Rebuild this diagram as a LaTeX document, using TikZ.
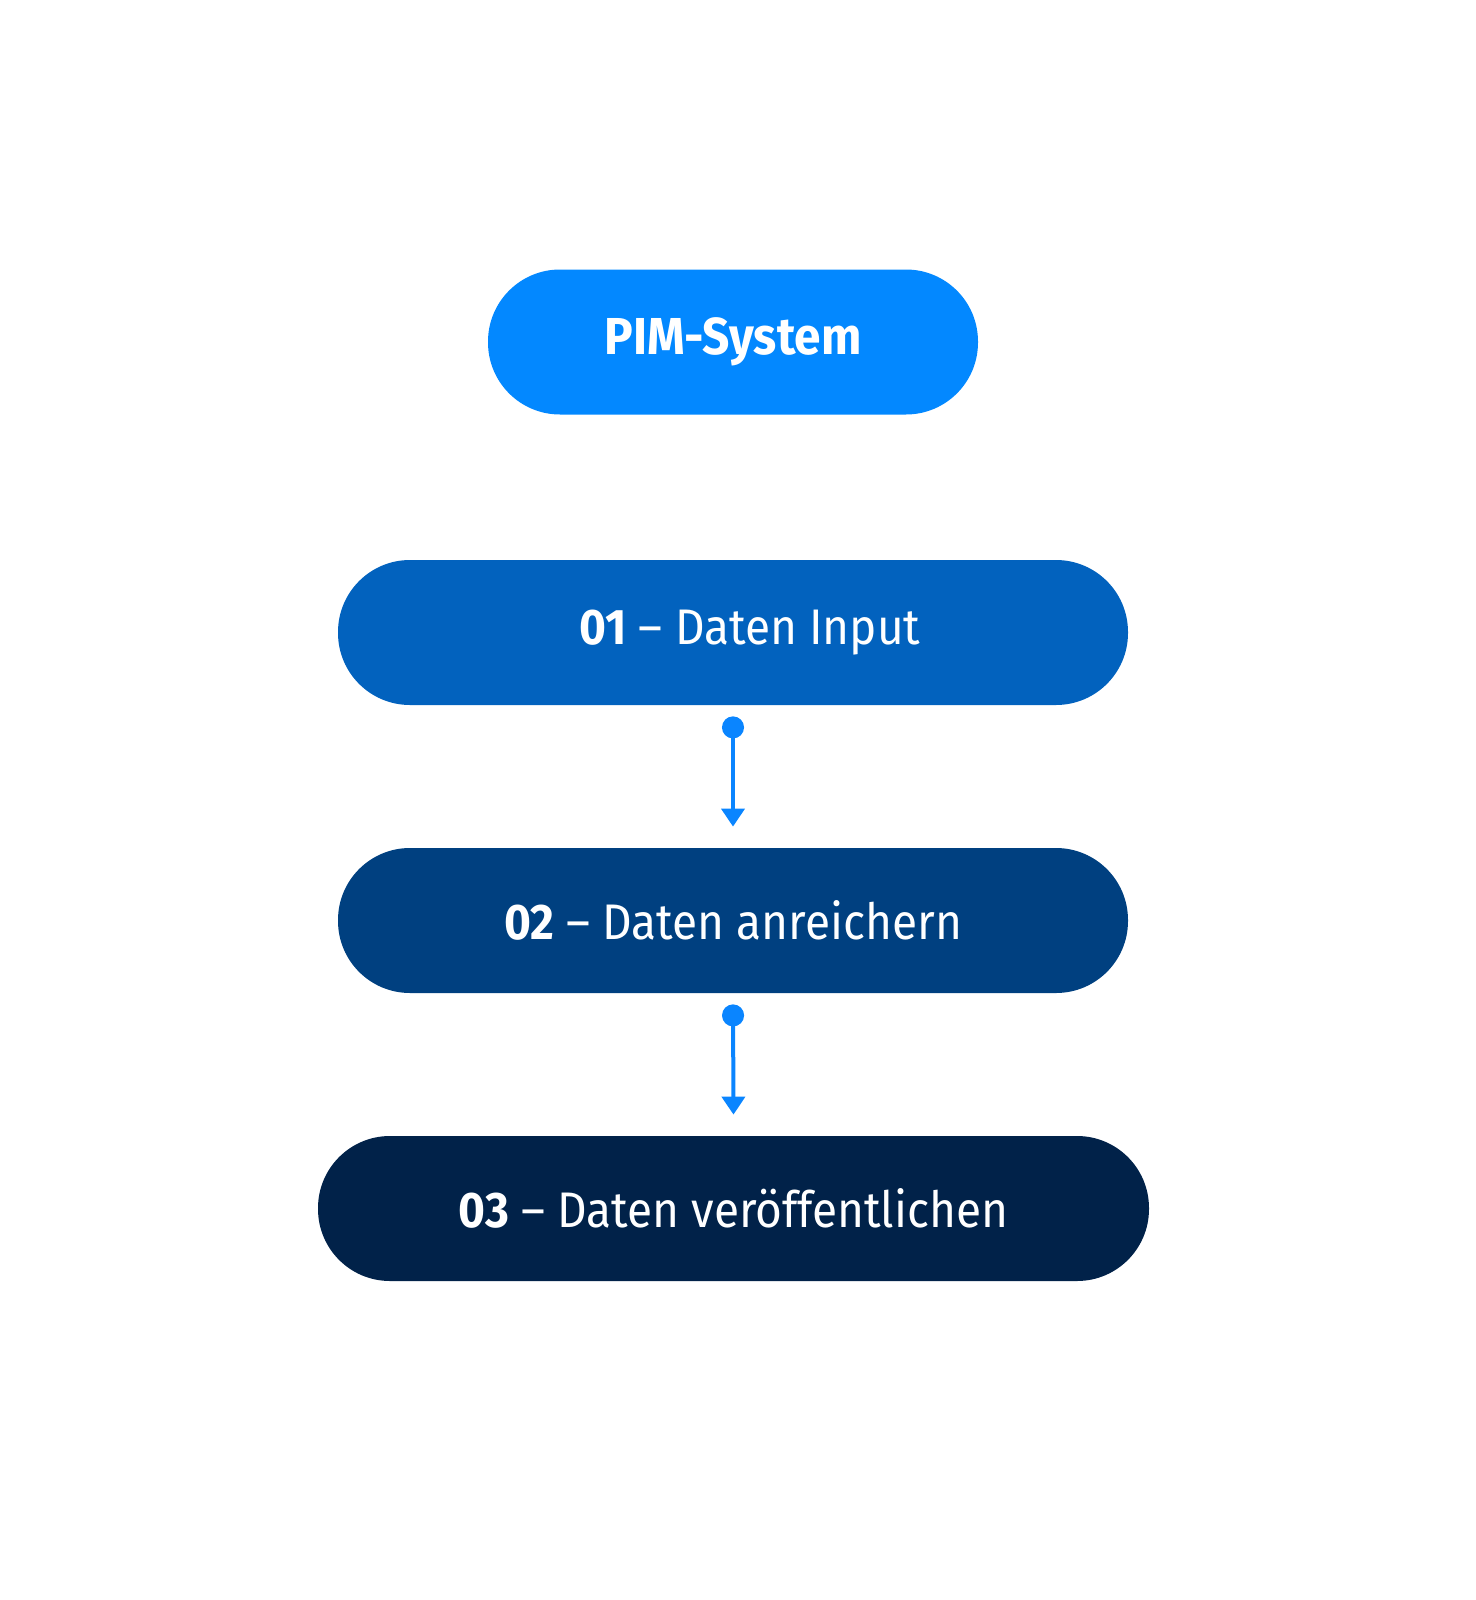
\documentclass[tikz,border=0pt]{standalone}
\usepackage{fontspec}
\setmainfont[FakeStretch=0.92]{Fira Sans}
\usetikzlibrary{arrows.meta}
\definecolor{pimblue}{HTML}{0388FF}
\definecolor{stepone}{HTML}{0262BE}
\definecolor{steptwo}{HTML}{004080}
\definecolor{stepthree}{HTML}{012249}
\definecolor{linkblue}{HTML}{0A85FF}

\begin{document}
\begin{tikzpicture}[x=0.5pt,y=-0.5pt,
	pill/.style={rectangle,rounded corners=36pt,minimum height=72.5pt,inner sep=0pt,text=white,font=\fontsize{25}{30}\selectfont},
	flow/.style={linkblue,line width=2pt,{Circle[length=11pt]}-{Triangle[length=9pt,width=11.5pt]}}]
	\useasboundingbox (0,0) rectangle (1476,1600);
	
	\node[pill,fill=pimblue,minimum width=245pt,font=\bfseries\fontsize{26}{30}\selectfont] (pim) at (733,342) {PIM-System};
	\node[pill,fill=stepone,minimum width=395pt] (n01) at (733,632.5) {\hspace*{17pt}\textbf{01} – Daten Input};
	\node[pill,fill=steptwo,minimum width=395pt] (n02) at (733,920.5) {\textbf{02} – Daten anreichern};
	\node[pill,fill=stepthree,minimum width=415.5pt] (n03) at (733.5,1208.5) {\textbf{03} – Daten veröffentlichen};
	
	% connectors between the steps
	\draw[flow] ([yshift=-5.5pt]n01.south) -- ([yshift=10.5pt]n02.north);
	\draw[flow] ([yshift=-5.5pt]n02.south) -- ([yshift=10.5pt]n03.north);
\end{tikzpicture}
\end{document}
